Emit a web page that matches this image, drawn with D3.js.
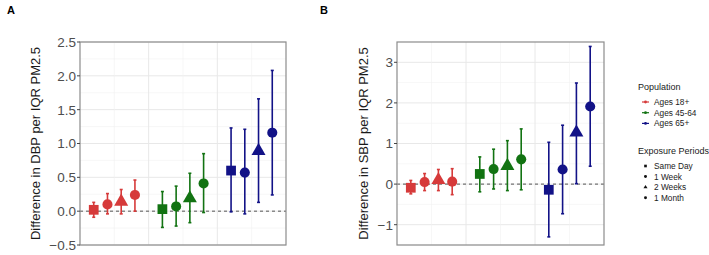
<!DOCTYPE html>
<html>
<head>
<meta charset="utf-8">
<script src="https://cdn.jsdelivr.net/npm/d3@7"></script>
<style>
  body { margin: 0; background: #fff; }
  svg { font-family: "Liberation Sans", Arial, sans-serif; }
</style>
</head>
<body>
<script>
// Data
let groups = ["Ages 18+", "Ages 45-64", "Ages 65+"];
let periods = ["Same Day", "1 Week", "2 Weeks", "1 Month"];
let colors = ["#d63a3a", "#127312", "#121287"];

// Panel A: DBP
let dbpEst  = [0.02, 0.10, 0.14, 0.24, 0.03, 0.07, 0.19, 0.41, 0.60, 0.57, 0.89, 1.16];
let dbpLow  = [-0.09, -0.04, -0.04, 0.00, -0.24, -0.22, -0.17, -0.02, -0.01, -0.04, 0.13, 0.24];
let dbpHigh = [0.13, 0.26, 0.32, 0.46, 0.29, 0.37, 0.56, 0.85, 1.23, 1.21, 1.66, 2.08];
let dbpTicks = [-0.5, 0.0, 0.5, 1.0, 1.5, 2.0, 2.5];

// Panel B: SBP
let sbpEst  = [-0.09, 0.05, 0.10, 0.06, 0.25, 0.37, 0.45, 0.61, -0.14, 0.36, 1.27, 1.91];
let sbpLow  = [-0.24, -0.16, -0.16, -0.26, -0.19, -0.12, -0.16, -0.14, -1.30, -0.73, 0.01, 0.44];
let sbpHigh = [0.09, 0.26, 0.36, 0.38, 0.67, 0.86, 1.07, 1.36, 1.03, 1.45, 2.49, 3.39];
let sbpTicks = [-1, 0, 1, 2, 3];

let svg = d3.select("body").append("svg")
    .attr("width", 709)
    .attr("height", 255);

let shapeFor = [d3.symbolSquare, d3.symbolCircle, d3.symbolTriangle, d3.symbolCircle];
let sizeFor = [95, 80, 85, 80];

function rows(est, low, high) {
    let out = [];
    groups.forEach((g, gi) => {
        periods.forEach((p, pi) => {
            let k = gi * periods.length + pi;
            out.push({ g: gi, p: pi, pos: gi * 5 + pi + 1, est: est[k], low: low[k], high: high[k] });
        });
    });
    return out;
}

function panel(opts) {
    let { left, right, top, bottom, domain, ticks, minor, fmt, title, label, labelX, data } = opts;
    let x = d3.scaleLinear().domain([0, 15]).range([left, right]);
    let y = d3.scaleLinear().domain(domain).range([bottom, top]);
    let g = svg.append("g");

    // Grid
    g.selectAll("line.hmin").data(minor).enter().append("line")
        .attr("x1", left).attr("x2", right)
        .attr("y1", d => y(d)).attr("y2", d => y(d))
        .attr("stroke", "#f2f2f2").attr("stroke-width", 0.6);
    g.selectAll("line.hmaj").data(ticks).enter().append("line")
        .attr("x1", left).attr("x2", right)
        .attr("y1", d => y(d)).attr("y2", d => y(d))
        .attr("stroke", "#e8e8e8").attr("stroke-width", 1);
    g.selectAll("line.v").data([2.5, 5, 7.5, 10, 12.5]).enter().append("line")
        .attr("y1", top).attr("y2", bottom)
        .attr("x1", d => x(d)).attr("x2", d => x(d))
        .attr("stroke", d => d % 5 === 0 ? "#e8e8e8" : "#f2f2f2")
        .attr("stroke-width", d => d % 5 === 0 ? 1 : 0.6);

    // Zero line
    g.append("line")
        .attr("x1", left).attr("x2", right)
        .attr("y1", y(0)).attr("y2", y(0))
        .attr("stroke", "#555").attr("stroke-width", 1)
        .attr("stroke-dasharray", "3,3");

    // Error bars
    let eb = g.selectAll("g.eb").data(data).enter().append("g")
        .attr("stroke", d => colors[d.g]).attr("stroke-width", 1.6);
    eb.append("line")
        .attr("x1", d => x(d.pos)).attr("x2", d => x(d.pos))
        .attr("y1", d => y(d.low)).attr("y2", d => y(d.high));
    eb.append("line")
        .attr("x1", d => x(d.pos) - 1.5).attr("x2", d => x(d.pos) + 1.5)
        .attr("y1", d => y(d.low)).attr("y2", d => y(d.low));
    eb.append("line")
        .attr("x1", d => x(d.pos) - 1.5).attr("x2", d => x(d.pos) + 1.5)
        .attr("y1", d => y(d.high)).attr("y2", d => y(d.high));

    // Points
    g.selectAll("path.pt").data(data).enter().append("path")
        .attr("transform", d => `translate(${x(d.pos)},${y(d.est)})`)
        .attr("d", d => d3.symbol().type(shapeFor[d.p]).size(sizeFor[d.p])())
        .attr("fill", d => colors[d.g]);

    // Border
    g.append("rect")
        .attr("x", left).attr("y", top)
        .attr("width", right - left).attr("height", bottom - top)
        .attr("fill", "none").attr("stroke", "#8c8c8c").attr("stroke-width", 1.2);

    // Y axis ticks and labels
    g.selectAll("line.tk").data(ticks).enter().append("line")
        .attr("x1", left - 3).attr("x2", left)
        .attr("y1", d => y(d)).attr("y2", d => y(d))
        .attr("stroke", "#444");
    g.selectAll("text.tl").data(ticks).enter().append("text")
        .attr("x", left - 4).attr("y", d => y(d))
        .attr("dy", "0.36em")
        .attr("text-anchor", "end")
        .attr("font-size", 13.5)
        .attr("fill", "#4d4d4d")
        .text(d => d3.format(fmt)(d));

    // Y axis title
    g.append("text")
        .attr("transform", `translate(${labelX},${(top + bottom) / 2}) rotate(-90)`)
        .attr("text-anchor", "middle")
        .attr("dy", "0.35em")
        .attr("font-size", 13)
        .attr("fill", "#1a1a1a")
        .text(label);

    // Panel tag
    svg.append("text")
        .attr("x", title.x).attr("y", 14)
        .attr("font-size", 11)
        .attr("font-weight", "bold")
        .text(title.t);
}

panel({
    left: 80, right: 286, top: 42, bottom: 245,
    domain: [-0.5, 2.5], ticks: dbpTicks,
    minor: [-0.25, 0.25, 0.75, 1.25, 1.75, 2.25],
    fmt: ".1f", title: { t: "A", x: 7 },
    label: "Difference in DBP per IQR PM2.5", labelX: 35,
    data: rows(dbpEst, dbpLow, dbpHigh)
});

panel({
    left: 397, right: 604, top: 42, bottom: 245,
    domain: [-1.5, 3.5], ticks: sbpTicks,
    minor: [-1.5, -0.5, 0.5, 1.5, 2.5],
    fmt: "d", title: { t: "B", x: 320 },
    label: "Difference in SBP per IQR PM2.5", labelX: 363,
    data: rows(sbpEst, sbpLow, sbpHigh)
});

// Legends
let lg = svg.append("g").attr("transform", "translate(638,0)");
lg.append("text").attr("x", 0).attr("y", 87).attr("dy", "0.35em")
    .attr("font-size", 9).attr("fill", "#1a1a1a").text("Population");
let pl = lg.selectAll("g.pl").data(groups).enter().append("g")
    .attr("transform", (d, i) => `translate(0,${102 + i * 10.7})`);
pl.append("line").attr("x1", 4).attr("x2", 11).attr("y1", 0).attr("y2", 0)
    .attr("stroke", (d, i) => colors[i]).attr("stroke-width", 1.2);
pl.append("circle").attr("cx", 7.5).attr("cy", 0).attr("r", 1.4)
    .attr("fill", (d, i) => colors[i]);
pl.append("text").attr("x", 16).attr("y", 0).attr("dy", "0.35em")
    .attr("font-size", 8.3).attr("fill", "#1a1a1a").text(d => d);

lg.append("text").attr("x", 0).attr("y", 151).attr("dy", "0.35em")
    .attr("font-size", 9).attr("fill", "#1a1a1a").text("Exposure Periods");
let sl = lg.selectAll("g.sl").data(periods).enter().append("g")
    .attr("transform", (d, i) => `translate(0,${166 + i * 10.6})`);
sl.append("path").attr("transform", "translate(7.5,0)")
    .attr("d", (d, i) => d3.symbol().type(shapeFor[i]).size(7)())
    .attr("fill", "#111");
sl.append("text").attr("x", 16).attr("y", 0).attr("dy", "0.35em")
    .attr("font-size", 8.3).attr("fill", "#1a1a1a").text(d => d);
</script>
</body>
</html>
